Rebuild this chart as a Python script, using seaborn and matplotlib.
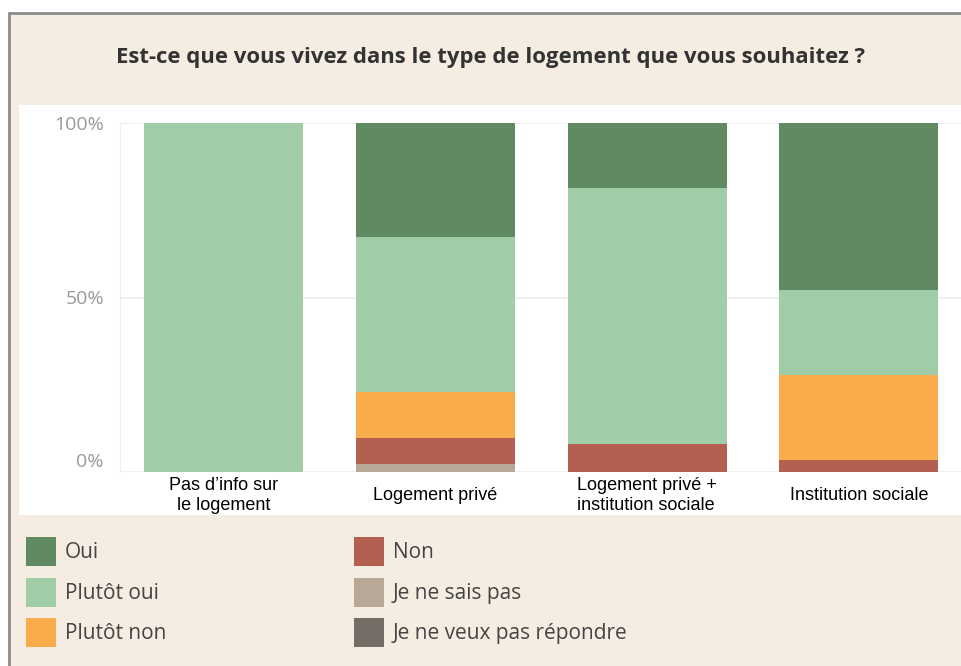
import matplotlib
matplotlib.use("Agg")
import matplotlib.pyplot as plt
import matplotlib.transforms as mtransforms
from matplotlib.patches import Rectangle
from matplotlib.lines import Line2D
import seaborn as sns
import numpy as np

# categories on the x axis
categories = ["Pas d’info sur\nle logement", "Logement privé",
              "Logement privé +\ninstitution sociale", "Institution sociale"]

# share of answers (%) per category
oui = [0, 32.7, 18.5, 47.9]
plutot_oui = [100, 44.4, 73.4, 24.4]
plutot_non = [0, 13.3, 0, 24.4]
non = [0, 7.2, 8.1, 3.3]
ne_sais_pas = [0, 2.4, 0, 0]
ne_veux_pas = [0, 0, 0, 0]

series_names = ["Oui", "Plutôt oui", "Plutôt non", "Non",
                "Je ne sais pas", "Je ne veux pas répondre"]
series_colors = ["#5f8a62", "#a1cca8", "#f9ac4c", "#b46050", "#b8a898", "#756d66"]
ytick_vals = [0, 50, 100]
ytick_labels = ["0%", "50%", "100%"]

title = "Est-ce que vous vivez dans le type de logement que vous souhaitez ?"

sns.set_style("white")
plt.rcParams["font.family"] = ["Open Sans", "DejaVu Sans"]

W, H = 961, 666
fig = plt.figure(figsize=(W / 100, H / 100), dpi=100, facecolor="white")

def fx(px):
    return px / W

def fy(py):
    return 1 - py / H

# beige panel + grey frame
fig.add_artist(Rectangle((fx(10), 0), fx(951), fy(14), transform=fig.transFigure,
                         fc="#f5ece2", ec="none", zorder=0))
fig.add_artist(Line2D([fx(9), 1], [fy(13), fy(13)], transform=fig.transFigure,
                      color="#8c8c8c", lw=2))
fig.add_artist(Line2D([fx(9), fx(9)], [fy(13), 0], transform=fig.transFigure,
                      color="#8c8c8c", lw=2))
# white plot panel
fig.add_artist(Rectangle((fx(19), fy(515)), fx(942), (515 - 105) / H,
                         transform=fig.transFigure, fc="white", ec="none", zorder=0))

fig.text(fx(491), fy(57), title, ha="center", va="center", fontsize=15.9,
         fontweight="bold", color="#333333")

ax = fig.add_axes([fx(120), fy(472), fx(841), 349 / H])
ax.patch.set_visible(False)

# stack bottom-up
stack = [(ne_veux_pas, 5), (ne_sais_pas, 4), (non, 3), (plutot_non, 2),
         (plutot_oui, 1), (oui, 0)]
bottom = np.zeros(len(categories))
for vals, i in stack:
    sns.barplot(x=categories, y=vals, bottom=bottom, color=series_colors[i],
                saturation=1, width=0.75, linewidth=0, label=series_names[i],
                order=categories, ax=ax)
    bottom = bottom + np.array(vals)

if ax.get_legend() is not None:
    ax.get_legend().remove()

ax.set_xlim(-0.489, 3.482)
ax.set_ylim(0, 100)
ax.set_yticks(ytick_vals)
ax.set_yticklabels(ytick_labels)
ax.set_xlabel("")
ax.set_ylabel("")
ax.grid(axis="y", color="#ececec", lw=1.2)
ax.set_axisbelow(True)
for s in ["top", "right", "bottom"]:
    ax.spines[s].set_visible(False)
ax.spines["left"].set_color("#eeeeee")
ax.tick_params(axis="y", length=8.6, color="#ececec", pad=3, labelsize=14,
               labelcolor="#9a9a9a")
ax.tick_params(axis="x", length=0, pad=17, labelsize=13, labelcolor="black")

# 0% label sits a bit above its line
lab0 = ax.get_yticklabels()[0]
lab0.set_transform(lab0.get_transform() +
                   mtransforms.ScaledTranslation(0, 12 / 100, fig.dpi_scale_trans))

for lab in ax.get_xticklabels():
    lab.set_family(["Liberation Sans", "DejaVu Sans"])
    lab.set_va("center")
    lab.set_bbox(dict(fc="white", ec="none", pad=1))
ax.get_xticklabels()[2].set_multialignment("left")

handles, labels = ax.get_legend_handles_labels()
hmap = dict(zip(labels, handles))
leg_kw = dict(loc="upper left", frameon=False, fontsize=15, handlelength=1.44,
              handleheight=1.77, labelspacing=0.55, handletextpad=0.43,
              borderpad=0, borderaxespad=0, labelcolor="#444444")
col1 = series_names[:3]
col2 = series_names[3:]
fig.legend([hmap[n] for n in col1], col1, bbox_to_anchor=(fx(26), fy(537)), **leg_kw)
fig.legend([hmap[n] for n in col2], col2, bbox_to_anchor=(fx(354), fy(537)), **leg_kw)

fig.savefig("out.png", dpi=100)
